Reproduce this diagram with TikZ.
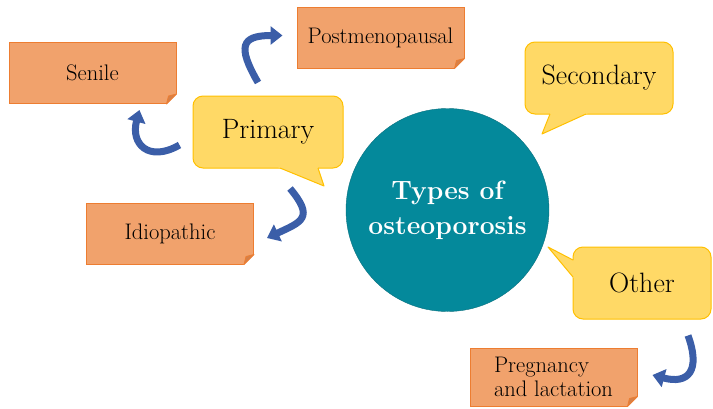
\documentclass[tikz,border=0pt]{standalone}
\usetikzlibrary{arrows.meta, calc}

\definecolor{hubteal}{RGB}{4,137,155}
\definecolor{hubedge}{RGB}{10,112,126}
\definecolor{kindfill}{RGB}{255,217,102}
\definecolor{kindedge}{RGB}{255,192,0}
\definecolor{subfill}{RGB}{241,162,108}
\definecolor{subedge}{RGB}{237,125,49}
\definecolor{foldfill}{RGB}{214,128,72}
\definecolor{turnblue}{RGB}{59,94,168}

\begin{document}
\begin{tikzpicture}[
    x=1pt, y=-1pt,
    hub/.style={circle, fill=hubteal, draw=hubedge, minimum size=203pt, inner sep=0pt,
        text=white, align=center, font=\bfseries\fontsize{26.5}{35}\selectfont},
    kind/.style={rectangle, rounded corners=10pt, fill=kindfill, draw=kindedge, line width=1pt,
        minimum height=72pt, font=\fontsize{28}{32}\selectfont},
    subtype/.style={rectangle, fill=subfill, draw=subedge, line width=1pt,
        minimum width=167pt, minimum height=61pt, font=\fontsize{22.5}{24}\selectfont},
    fold/.style={fill=foldfill, draw=subedge, line width=0.8pt, line join=round},
    turn/.style={-{Triangle[width=18pt,length=12pt]}, line width=7pt, draw=turnblue}
]
    \useasboundingbox (0,0) rectangle (713,408);

    % centre
    \node[hub] (types) at (447.5,210) {Types of\\osteoporosis};

    % main kinds (speech bubbles)
    \node[kind, minimum width=150pt] (primary)   at (268,132) {Primary};
    \node[kind, minimum width=148pt] (secondary) at (599,78)  {Secondary};
    \node[kind, minimum width=138pt] (other)     at (642,283) {Other};

    % bubble tails
    \foreach \a/\t/\b in {{280,168}/{324,186}/{318,168},
                          {550,114}/{542,134}/{586,114},
                          {573,260}/{548,247}/{573,277}} {
        \fill[kindfill] ($(\t)!1.12!(\a)$) -- (\t) -- ($(\t)!1.12!(\b)$) -- cycle;
        \draw[kindedge, line width=1pt, line join=round] (\a) -- (\t) -- (\b);
    }

    % sub types
    \node[subtype]                      (senile)   at (92.5,73)   {Senile};
    \node[subtype]                      (postmeno) at (380.5,37.5) {Postmenopausal};
    \node[subtype]                      (idio)     at (170,233.5) {Idiopathic};
    \node[subtype, minimum height=58pt, align=left] (preg) at (553.5,377)
        {Pregnancy\\and lactation};

    % folded corners
    \foreach \n in {senile,postmeno,idio,preg} {
        \fill[white] ([xshift=1pt,yshift=-1pt]\n.south east) -- ([xshift=1pt,yshift=11pt]\n.south east)
            -- ([xshift=-11pt,yshift=-1pt]\n.south east) -- cycle;
        \filldraw[fold] ([yshift=10pt]\n.south east) -- ([xshift=-8pt,yshift=8pt]\n.south east)
            -- ([xshift=-10pt]\n.south east) -- cycle;
    }

    % curved arrows
    \draw[turn] ([xshift=-10pt,yshift=13pt]primary.north)
        to[out=120, in=180, looseness=2] ([xshift=-14pt,yshift=2pt]postmeno.west);
    \draw[turn] ([xshift=-13pt,yshift=-13pt]primary.west)
        to[out=-150, in=-105, looseness=1.7] ([xshift=47pt,yshift=-6pt]senile.south);
    \draw[turn] ([xshift=22pt,yshift=-20pt]primary.south)
        to[out=-50, in=25, looseness=1.8] ([xshift=13pt,yshift=-4.5pt]idio.east);
    \draw[turn] ([xshift=46pt,yshift=-16pt]other.south)
        to[out=-70, in=-15, looseness=1.8] ([xshift=15pt,yshift=2pt]preg.east);
\end{tikzpicture}
\end{document}
